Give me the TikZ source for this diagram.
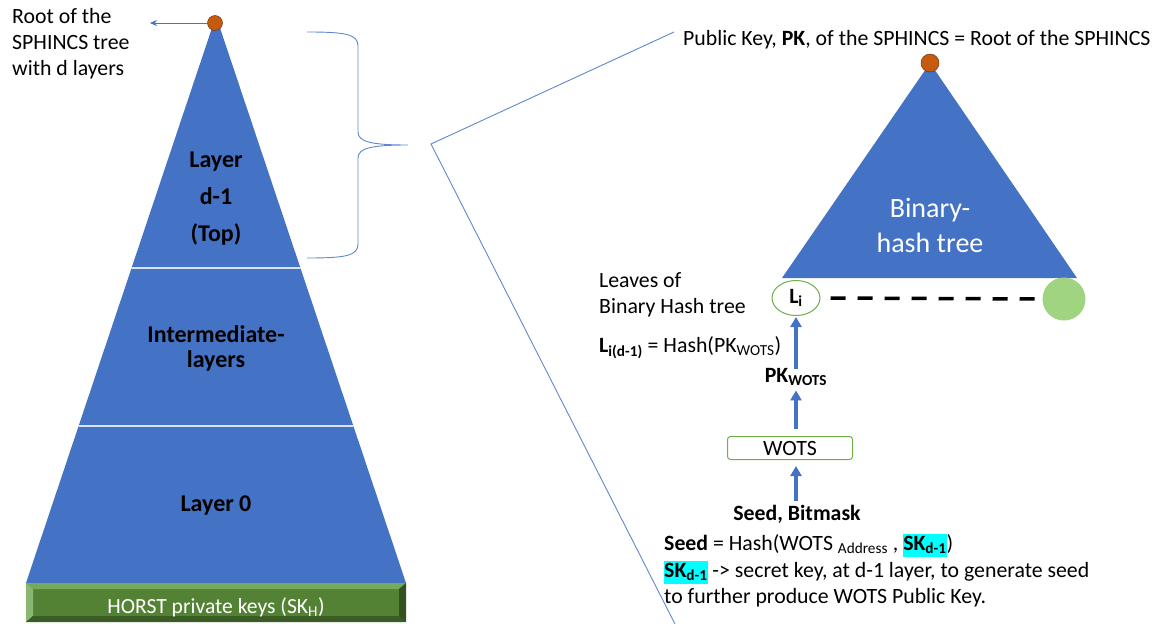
\documentclass[tikz,border=0pt]{standalone}
\usepackage{fontspec}
\setmainfont{Carlito}
\usetikzlibrary{arrows.meta,shapes.geometric}
\definecolor{treeblue}{RGB}{68,114,196}
\definecolor{rootorange}{RGB}{197,90,17}
\definecolor{barmid}{RGB}{84,130,53}
\definecolor{barlight}{RGB}{118,170,88}
\definecolor{bardark}{RGB}{52,82,33}
\definecolor{leafgreen}{RGB}{112,173,71}
\definecolor{leaffill}{RGB}{160,212,128}
\definecolor{hilite}{RGB}{0,255,255}
\newcommand{\fsz}[1]{\fontsize{#1}{#1}\selectfont}
\newcommand{\hl}[1]{{\setlength{\fboxsep}{0pt}\colorbox{hilite}{\rule[-7pt]{0pt}{23pt}#1}}}
\tikzset{
  lbl/.style={inner sep=0pt, anchor=base west, font=\fsz{21.8}},
  lbc/.style={inner sep=0pt, anchor=base, font=\fsz{21.8}},
  layertxt/.style={inner sep=0pt, anchor=base, font=\fsz{24}\bfseries},
  thinblue/.style={draw=treeblue!85!white, line width=0.9pt},
  flowarrow/.style={draw=treeblue, line width=3.2pt, -{Triangle[length=10pt,width=11pt]}},
  rootdot/.style={circle, fill=rootorange, draw=rootorange!60!black, line width=0.5pt, minimum size=15pt, inner sep=0pt},
}
\begin{document}
\begin{tikzpicture}[x=1pt,y=-1pt]
\useasboundingbox (0,0) rectangle (1163,624);

% ---------- left: SPHINCS hyper-tree ----------
\fill[treeblue] (216,16) -- (406,583) -- (26,583) -- cycle;
\begin{scope}
  \clip (216,16) -- (406,583) -- (26,583) -- cycle;
  \draw[white!80!treeblue, line width=1.2pt] (0,268) -- (500,268);
  \draw[white!80!treeblue, line width=1.2pt] (0,426) -- (500,426);
\end{scope}

% HORST bar with bevelled edges
\fill[barmid] (26,583) rectangle (406,622);
\fill[barlight] (26,583) -- (406,583) -- (399,589) -- (33,589) -- cycle;
\fill[barlight!85!white] (26,583) -- (33,589) -- (33,616) -- (26,622) -- cycle;
\fill[bardark] (406,583) -- (406,622) -- (399,616) -- (399,589) -- cycle;
\fill[bardark!80!barmid] (26,622) -- (406,622) -- (399,616) -- (33,616) -- cycle;
\node[inner sep=0pt, anchor=base, text=white, font=\fsz{21.6}] (horst) at (216,613) {HORST private keys (SK\textsubscript{H})};

\node[rootdot] (root) at (215,23) {};
\coordinate (rootend) at (150,23);
\draw[treeblue, line width=1pt, -{Stealth[length=7pt,width=6pt]}] (root.west) -- (rootend);

\node[lbl] (r1) at (12,23) {Root of the};
\node[lbl] (r2) at (12,49) {SPHINCS tree};
\node[lbl] (r3) at (12,75) {with d layers};

\node[layertxt] (l1) at (216,167) {Layer};
\node[layertxt] (l2) at (216,204) {d-1};
\node[layertxt] (l3) at (216,241) {(Top)};
\node[layertxt] (m1) at (216,342) {Intermediate-};
\node[layertxt] (m2) at (216,367) {layers};
\node[layertxt] (z0) at (216,511) {Layer 0};

% brace around the top layer
\draw[thinblue] (307,32) .. controls (345,32) and (358,34) .. (358,46)
  -- (358,132) .. controls (358,142) and (372,145) .. (408,145)
  (408,145) .. controls (372,145) and (358,148) .. (358,158)
  -- (358,244) .. controls (358,256) and (345,258) .. (307,258);

% zoom lines
\coordinate (zv) at (431,144);
\coordinate (zt) at (674,32);
\coordinate (zb) at (676,626);
\draw[thinblue] (zt) -- (zv) -- (zb);

% ---------- right: layer d-1 binary hash tree ----------
\node[lbl] (pk) at (683,45) {Public Key, \textbf{PK}, of the SPHINCS = Root of the SPHINCS};

\fill[treeblue] (930,63) -- (1077,278) -- (782,278) -- cycle;
\node[rootdot, minimum size=18pt] (pkroot) at (930,63) {};
\node[inner sep=0pt, anchor=base, text=white, font=\fsz{28}] (bt1) at (930,217) {Binary-};
\node[inner sep=0pt, anchor=base, text=white, font=\fsz{28}] (bt2) at (930,252) {hash tree};

\node[ellipse, draw=leafgreen, line width=1pt, minimum width=48pt, minimum height=35pt, inner sep=0pt, font=\fsz{21.8}\bfseries] (li) at (796,298) {L\textsubscript{i}};
\node[circle, fill=leaffill, minimum size=43pt, inner sep=0pt] (lf) at (1064,299) {};
\draw[black, line width=3.5pt, dash pattern=on 15pt off 12pt, shorten <=10pt] (li.east) -- (lf.west);

\node[lbl] (lv1) at (599,287) {Leaves of};
\node[lbl] (lv2) at (599,313) {Binary Hash tree};
\node[lbl] (lfor) at (599,352) {\textbf{L\textsubscript{i(d-1)}} = Hash(PK\textsubscript{WOTS})};

\node[inner sep=1pt, anchor=base, font=\fsz{21.8}\bfseries] (pkw) at (796,382) {PK\textsubscript{WOTS}};
\node[draw=leafgreen, rounded corners=3pt, line width=1pt, minimum width=125pt, minimum height=23pt, inner sep=0pt, font=\fsz{21.8}] (wots) at (790,448) {WOTS};
\node[lbc, font=\fsz{21.8}\bfseries] (seed) at (797,520) {Seed, Bitmask};

\draw[flowarrow, shorten <=-2pt, shorten >=1pt] (pkw.north -| li.south) -- (li.south);
\draw[flowarrow, shorten <=7pt, shorten >=4pt] (wots.north -| li.south) -- (pkw.south -| li.south);
\draw[flowarrow, shorten <=4pt, shorten >=6pt] (seed.north -| li.south) -- (wots.south -| li.south);

\node[lbl] (s1) at (664,550) {\textbf{Seed} = Hash(WOTS \textsubscript{Address} , \hl{\textbf{SK\textsubscript{d-1}}})};
\node[lbl] (s2) at (664,577) {\hl{\textbf{SK\textsubscript{d-1}}} -> secret key, at d-1 layer, to generate seed};
\node[lbl] (s3) at (664,603) {to further produce WOTS Public Key.};
\end{tikzpicture}
\end{document}
